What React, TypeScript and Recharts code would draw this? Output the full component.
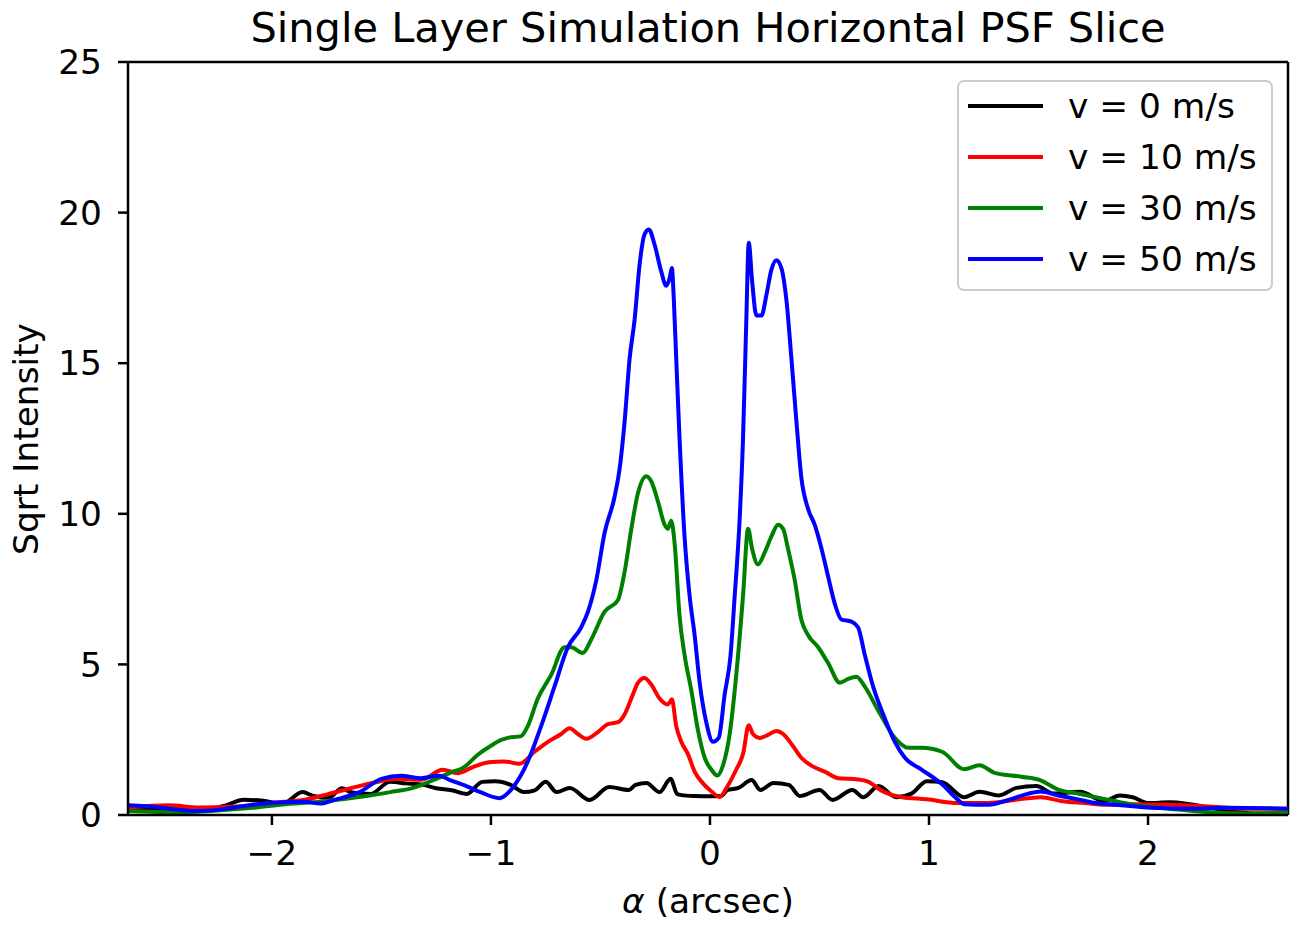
import React, { useLayoutEffect } from 'react';
import { LineChart, Line, XAxis, YAxis, Legend, ReferenceLine } from 'recharts';

// ---- data (alpha in arcsec, sqrt intensity) ----
const v0: [number, number][] = [
  [-2.657, 0.19], [-2.51, 0.19], [-2.33, 0.19], [-2.21, 0.32], [-2.13, 0.51], [-2.04, 0.47], [-1.95, 0.38],
  [-1.86, 0.76], [-1.81, 0.63], [-1.74, 0.57], [-1.68, 0.89], [-1.64, 0.76], [-1.55, 0.7], [-1.46, 1.1],
  [-1.39, 1.05], [-1.31, 1.0], [-1.25, 0.89], [-1.18, 0.82], [-1.11, 0.7], [-1.04, 1.1], [-0.98, 1.12],
  [-0.91, 1.0], [-0.85, 0.76], [-0.8, 0.82], [-0.75, 1.1], [-0.7, 0.76], [-0.64, 0.9], [-0.55, 0.5],
  [-0.46, 0.93], [-0.37, 0.83], [-0.34, 1.0], [-0.29, 1.06], [-0.23, 0.76], [-0.18, 1.2], [-0.15, 0.7],
  [-0.13, 0.66], [-0.07, 0.63], [0.0, 0.62], [0.05, 0.63], [0.08, 0.83], [0.13, 0.9], [0.19, 1.16],
  [0.23, 0.83], [0.29, 1.06], [0.36, 1.0], [0.41, 0.63], [0.5, 0.83], [0.56, 0.5], [0.65, 0.83], [0.7, 0.59],
  [0.77, 0.96], [0.85, 0.59], [0.92, 0.71], [0.99, 1.12], [1.06, 1.09], [1.16, 0.59], [1.23, 0.77],
  [1.32, 0.65], [1.4, 0.9], [1.49, 0.96], [1.57, 0.71], [1.69, 0.77], [1.8, 0.46], [1.87, 0.65],
  [1.93, 0.59], [2.0, 0.4], [2.1, 0.42], [2.19, 0.36], [2.36, 0.15], [2.5, 0.05], [2.639, 0.05],
];

const v10: [number, number][] = [
  [-2.657, 0.25], [-2.47, 0.32], [-2.33, 0.25], [-2.16, 0.28], [-1.99, 0.41], [-1.85, 0.51], [-1.74, 0.7],
  [-1.64, 0.89], [-1.53, 1.08], [-1.43, 1.2], [-1.32, 1.17], [-1.22, 1.5], [-1.15, 1.39], [-1.08, 1.6],
  [-1.01, 1.75], [-0.94, 1.78], [-0.87, 1.7], [-0.801, 2.1], [-0.74, 2.43], [-0.679, 2.69], [-0.641, 2.88],
  [-0.603, 2.69], [-0.565, 2.53], [-0.512, 2.75], [-0.466, 3.02], [-0.42, 3.08], [-0.39, 3.34], [-0.352, 4.0],
  [-0.329, 4.39], [-0.299, 4.55], [-0.268, 4.33], [-0.23, 3.87], [-0.192, 3.67], [-0.174, 3.84], [-0.154, 2.95],
  [-0.131, 2.43], [-0.101, 2.03], [-0.07, 1.44], [-0.032, 1.05], [0.006, 0.79], [0.044, 0.6], [0.082, 0.98],
  [0.12, 1.51], [0.151, 2.03], [0.177, 2.98], [0.196, 2.69], [0.227, 2.56], [0.265, 2.66], [0.303, 2.79],
  [0.334, 2.69], [0.372, 2.36], [0.417, 1.9], [0.463, 1.64], [0.524, 1.44], [0.585, 1.22], [0.676, 1.18],
  [0.722, 1.11], [0.786, 0.8], [0.87, 0.6], [0.99, 0.52], [1.13, 0.4], [1.27, 0.4], [1.39, 0.5], [1.51, 0.59],
  [1.61, 0.46], [1.71, 0.4], [1.81, 0.34], [1.93, 0.36], [2.1, 0.34], [2.28, 0.28], [2.45, 0.21], [2.639, 0.21],
];

const v30: [number, number][] = [
  [-2.657, 0.13], [-2.42, 0.09], [-2.25, 0.15], [-2.07, 0.25], [-1.9, 0.38], [-1.78, 0.44], [-1.67, 0.53],
  [-1.57, 0.63], [-1.46, 0.76], [-1.36, 0.89], [-1.25, 1.2], [-1.17, 1.45], [-1.13, 1.55], [-1.06, 2.0],
  [-1.0, 2.3], [-0.95, 2.5], [-0.923, 2.56], [-0.862, 2.62], [-0.832, 2.95], [-0.786, 3.87], [-0.725, 4.65],
  [-0.664, 5.57], [-0.634, 5.57], [-0.581, 5.38], [-0.542, 5.83], [-0.481, 6.75], [-0.42, 7.14], [-0.39, 8.06],
  [-0.359, 9.5], [-0.329, 10.68], [-0.291, 11.25], [-0.268, 11.08], [-0.238, 10.42], [-0.207, 9.64],
  [-0.192, 9.5], [-0.177, 9.77], [-0.161, 8.98], [-0.139, 6.62], [-0.116, 5.31], [-0.085, 4.13],
  [-0.055, 2.82], [-0.024, 1.9], [0.006, 1.51], [0.034, 1.31], [0.059, 1.64], [0.09, 2.69], [0.12, 4.65],
  [0.151, 7.28], [0.174, 9.5], [0.192, 8.85], [0.219, 8.32], [0.25, 8.72], [0.28, 9.24], [0.311, 9.64],
  [0.334, 9.5], [0.356, 8.85], [0.387, 7.8], [0.417, 6.49], [0.448, 5.97], [0.494, 5.57], [0.539, 5.05],
  [0.593, 4.39], [0.631, 4.52], [0.669, 4.59], [0.707, 4.26], [0.768, 3.47], [0.844, 2.56], [0.905, 2.23],
  [0.966, 2.23], [1.06, 2.1], [1.16, 1.52], [1.23, 1.65], [1.3, 1.4], [1.42, 1.27], [1.51, 1.15], [1.59, 0.84],
  [1.68, 0.71], [1.81, 0.52], [1.93, 0.34], [2.1, 0.21], [2.28, 0.09], [2.45, 0.05], [2.639, 0.09],
];

const v50: [number, number][] = [
  [-2.657, 0.32], [-2.51, 0.25], [-2.4, 0.15], [-2.33, 0.13], [-2.23, 0.19], [-2.11, 0.32], [-1.99, 0.41],
  [-1.85, 0.44], [-1.78, 0.38], [-1.71, 0.51], [-1.6, 0.76], [-1.5, 1.2], [-1.41, 1.3], [-1.32, 1.22],
  [-1.24, 1.3], [-1.18, 1.14], [-1.11, 0.95], [-1.045, 0.75], [-0.961, 0.56], [-0.893, 0.98], [-0.832, 1.77],
  [-0.771, 2.95], [-0.71, 4.26], [-0.649, 5.57], [-0.588, 6.23], [-0.557, 6.75], [-0.519, 7.8], [-0.481, 9.37],
  [-0.436, 10.55], [-0.413, 11.47], [-0.39, 13.04], [-0.367, 15.14], [-0.344, 16.45], [-0.321, 18.29],
  [-0.299, 19.27], [-0.279, 19.44], [-0.253, 18.94], [-0.222, 18.03], [-0.2, 17.57], [-0.184, 17.83],
  [-0.174, 18.16], [-0.165, 17.1], [-0.154, 15.14], [-0.139, 12.52], [-0.116, 9.24], [-0.093, 7.28],
  [-0.07, 5.97], [-0.047, 4.39], [-0.017, 3.08], [0.014, 2.43], [0.04, 2.56], [0.067, 4.0], [0.094, 5.31],
  [0.113, 7.28], [0.136, 9.9], [0.151, 12.52], [0.166, 16.45], [0.177, 19.0], [0.192, 17.76], [0.212, 16.58],
  [0.235, 16.58], [0.257, 17.24], [0.28, 18.09], [0.303, 18.42], [0.326, 18.16], [0.349, 17.1], [0.372, 15.14],
  [0.395, 13.04], [0.417, 11.21], [0.448, 10.16], [0.478, 9.64], [0.509, 8.85], [0.539, 7.93], [0.57, 7.01],
  [0.6, 6.49], [0.646, 6.42], [0.676, 6.23], [0.707, 5.31], [0.745, 4.26], [0.798, 3.21], [0.844, 2.43],
  [0.89, 1.9], [0.966, 1.51], [1.06, 1.02], [1.13, 0.52], [1.16, 0.36], [1.27, 0.34], [1.37, 0.52],
  [1.455, 0.71], [1.51, 0.78], [1.59, 0.65], [1.68, 0.52], [1.76, 0.4], [1.85, 0.34], [2.02, 0.24],
  [2.19, 0.21], [2.36, 0.24], [2.639, 0.21],
];

const seriesNames = ['v = 0 m/s', 'v = 10 m/s', 'v = 30 m/s', 'v = 50 m/s'];
const seriesColors = ['#000000', '#ff0000', '#008000', '#0000ff'];
const seriesData = [v0, v10, v30, v50];
const xTicks = [-2, -1, 0, 1, 2];
const yTicks = [0, 5, 10, 15, 20, 25];
const xDomain: [number, number] = [-2.657, 2.639];
const yDomain: [number, number] = [0, 25];
const titleText = 'Single Layer Simulation Horizontal PSF Slice';
const yLabelText = 'Sqrt Intensity';

// ---- layout (chart placed at page origin) ----
const W = 1291;
const H = 925;
const FONT = 'DejaVu Sans, sans-serif';
const TICK_FS = 34.4;
const TITLE_FS = 41.5;

const fmt = (v: number) => (v < 0 ? '\u2212' + Math.abs(v) : String(v));

const renderLegend = () => (
  <svg width={316} height={211} style={{ display: 'block' }}>
    <rect x={1} y={1} width={314} height={209} rx={6} ry={6} fill="#ffffff" fillOpacity={0.8} stroke="#cccccc" strokeWidth={2} />
    {seriesNames.map((n, i) => (
      <g key={n}>
        <line x1={11} x2={86} y1={26 + i * 51} y2={26 + i * 51} stroke={seriesColors[i]} strokeWidth={4} />
        <text x={111} y={26 + i * 51 + 12.2} fontFamily={FONT} fontSize={TICK_FS} fill="#000">{n}</text>
      </g>
    ))}
  </svg>
);

export default function App() {
  useLayoutEffect(() => {
    document.documentElement.style.overflow = 'hidden';
    document.body.style.margin = '0';
  }, []);
  return (
    <div style={{ position: 'relative', width: W, height: H, overflow: 'hidden' }}>
      <LineChart width={W} height={H} margin={{ top: 62, right: 3, left: 0, bottom: 0 }}>
        <XAxis
          type="number"
          dataKey="x"
          domain={xDomain}
          allowDataOverflow
          ticks={xTicks}
          tickFormatter={fmt}
          height={110}
          tickSize={10}
          tickMargin={16}
          stroke="#000"
          axisLine={{ stroke: '#000', strokeWidth: 2.5 }}
          tickLine={{ stroke: '#000', strokeWidth: 2.5 }}
          tick={{ fill: '#000', fontSize: TICK_FS, fontFamily: FONT }}
          label={{
            content: () => (
              <text x={708} y={913} textAnchor="middle" fontFamily={FONT} fontSize={TICK_FS} fill="#000">
                <tspan fontStyle="italic">α</tspan> (arcsec)
              </text>
            ),
          }}
        />
        <YAxis
          type="number"
          domain={yDomain}
          ticks={yTicks}
          width={128}
          tickSize={10}
          tickMargin={16}
          stroke="#000"
          axisLine={{ stroke: '#000', strokeWidth: 2.5 }}
          tickLine={{ stroke: '#000', strokeWidth: 2.5 }}
          tick={{ fill: '#000', fontSize: TICK_FS, fontFamily: FONT }}
          label={{
            content: () => (
              <text x={38} y={439} transform="rotate(-90 38 439)" textAnchor="middle" fontFamily={FONT} fontSize={TICK_FS} fill="#000">
                {yLabelText}
              </text>
            ),
          }}
        />
        <ReferenceLine y={yDomain[1]} stroke="#000" strokeWidth={2.5} ifOverflow="visible" />
        <ReferenceLine x={xDomain[1]} stroke="#000" strokeWidth={2.5} ifOverflow="visible" />
        {seriesData.map((d, i) => (
          <Line
            key={seriesNames[i]}
            name={seriesNames[i]}
            data={d.map(([x, y]) => ({ x, y }))}
            dataKey="y"
            type="monotone"
            stroke={seriesColors[i]}
            strokeWidth={4}
            dot={false}
            activeDot={false}
            isAnimationActive={false}
          />
        ))}
        <Legend
          layout="vertical"
          align="center"
          verticalAlign="middle"
          content={renderLegend}
          wrapperStyle={{ position: 'absolute', left: 957, top: 80, width: 316, height: 211 }}
        />
      </LineChart>
      <svg width={W} height={60} style={{ position: 'absolute', left: 0, top: 0, pointerEvents: 'none' }}>
        <text x={708} y={42} textAnchor="middle" fontFamily={FONT} fontSize={TITLE_FS} fill="#000">
          {titleText}
        </text>
      </svg>
    </div>
  );
}
